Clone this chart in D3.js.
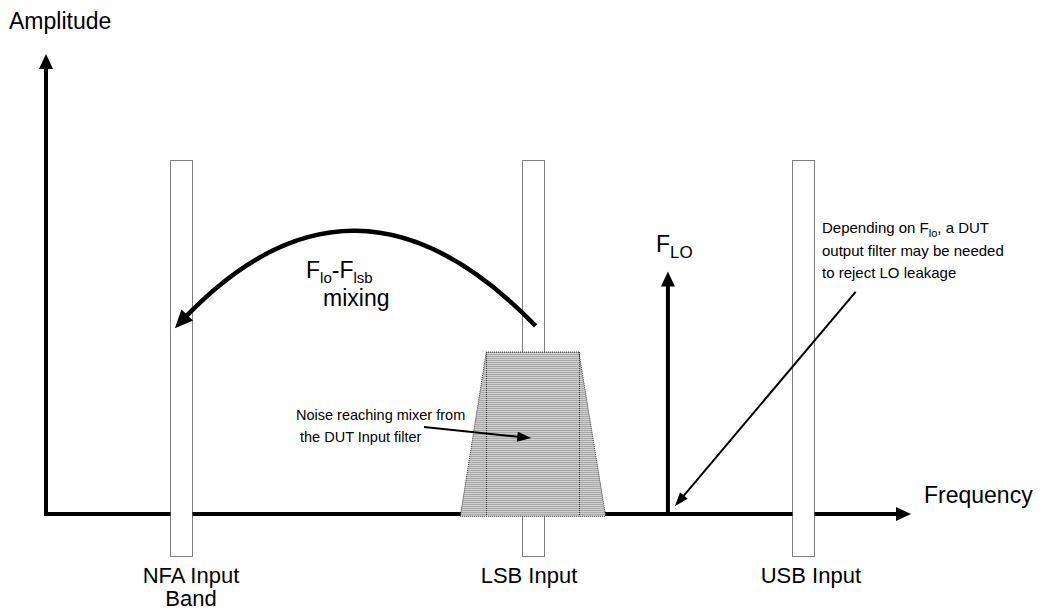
<!DOCTYPE html>
<html>
<head>
<meta charset="utf-8">
<script src="https://cdn.jsdelivr.net/npm/d3@7"></script>
<style>
  html, body { margin: 0; padding: 0; background: #fff; }
  svg { display: block; }
  text { font-family: "Liberation Sans", Arial, Helvetica, sans-serif; fill: #000; }
</style>
</head>
<body>
<svg id="chart" width="1059" height="611"></svg>
<script>
// ---------------- data (frequency units 0..1000, amplitude units 0..100) ----------------
const bandNames   = [["NFA Input", "Band"], ["LSB Input"], ["USB Input"]];
const bandCenters = [156, 563, 875];      // NFA (= Flo - Flsb), LSB, USB
const bandWidth   = 25;
const bandTop     = 77;
const bandBottom  = -9;

const loFreq = 719;                         // F_LO
const loAmp  = 52.7;

const noiseFreqs = [479, 509, 616, 647];    // DUT input filter skirt corners
const noiseAmps  = [-0.5, 35.2, 35.2, -0.5];

const mixFreqs = [566, 356, 149];           // start, control, end of mixing arc
const mixAmps  = [40.9, 81.7, 40.4];

const noiseArrowFreqs = [437, 561];
const noiseArrowAmps  = [18.9, 16.5];
const loArrowFreqs    = [936, 727];
const loArrowAmps     = [48.3, 1.7];

const axisFreqMax = 1000;
const axisAmpMax  = 100;

// ---------------- scales ----------------
const svg = d3.select("#chart");
const x = d3.scaleLinear().domain([0, axisFreqMax]).range([46, 911]);
const y = d3.scaleLinear().domain([0, axisAmpMax]).range([514, 54]);

function headPath(tip, from, len, w) {
  const dx = tip[0] - from[0], dy = tip[1] - from[1];
  const L = Math.hypot(dx, dy);
  const ux = dx / L, uy = dy / L;
  const bx = tip[0] - ux * len, by = tip[1] - uy * len;
  const px = -uy, py = ux;
  return `M${tip[0]},${tip[1]}L${bx + px * w / 2},${by + py * w / 2}L${bx - px * w / 2},${by - py * w / 2}Z`;
}
function shorten(tip, from, d) {
  const dx = tip[0] - from[0], dy = tip[1] - from[1];
  const L = Math.hypot(dx, dy);
  return [tip[0] - dx / L * d, tip[1] - dy / L * d];
}

// pattern for noise fill
const defs = svg.append("defs");
const pat = defs.append("pattern").attr("id", "noiseFill")
  .attr("patternUnits", "userSpaceOnUse").attr("width", 2).attr("height", 2);
pat.append("rect").attr("width", 2).attr("height", 2).attr("fill", "#cdcdcd");
pat.append("rect").attr("width", 2).attr("height", 1).attr("fill", "#ababab");

// ---------------- axes ----------------
const origin = [x(0), y(0)];
const xTip = [x(axisFreqMax), y(0)];
const yTip = [x(0), y(axisAmpMax)];
const xEnd = shorten(xTip, origin, 12);
const yEnd = shorten(yTip, origin, 12);

svg.append("line")
  .attr("x1", origin[0] - 2).attr("y1", origin[1]).attr("x2", xEnd[0]).attr("y2", xEnd[1])
  .attr("stroke", "#000").attr("stroke-width", 4);
svg.append("path").attr("d", headPath(xTip, origin, 15, 14)).attr("fill", "#000");

svg.append("line")
  .attr("x1", origin[0]).attr("y1", origin[1] + 2).attr("x2", yEnd[0]).attr("y2", yEnd[1])
  .attr("stroke", "#000").attr("stroke-width", 4);
svg.append("path").attr("d", headPath(yTip, origin, 15, 14)).attr("fill", "#000");

// ---------------- F_LO ----------------
const loBase = [x(loFreq), y(0)];
const loTip  = [x(loFreq), y(loAmp)];
const loEnd = shorten(loTip, loBase, 12);
svg.append("line")
  .attr("x1", loBase[0]).attr("y1", loBase[1]).attr("x2", loEnd[0]).attr("y2", loEnd[1])
  .attr("stroke", "#000").attr("stroke-width", 4);
svg.append("path").attr("d", headPath(loTip, loBase, 15, 14)).attr("fill", "#000");

// ---------------- bands ----------------
svg.selectAll("rect.band").data(bandCenters).join("rect")
  .attr("class", "band")
  .attr("x", d => Math.round(x(d - bandWidth / 2)) + 0.5)
  .attr("y", Math.round(y(bandTop)) + 0.5)
  .attr("width", d => Math.round(x(d + bandWidth / 2) - x(d - bandWidth / 2)))
  .attr("height", Math.round(y(bandBottom) - y(bandTop)))
  .attr("fill", "#fff")
  .attr("stroke", "#000").attr("stroke-width", 1).attr("stroke-dasharray", "1,1");

// ---------------- noise trapezoid ----------------
const trap = noiseFreqs.map((f, i) => [x(f), y(noiseAmps[i])]);
svg.append("path")
  .attr("d", d3.line()(trap) + "Z")
  .attr("fill", "url(#noiseFill)")
  .attr("stroke", "#333").attr("stroke-width", 1).attr("stroke-dasharray", "1,1");
[1, 2].forEach(i => {
  svg.append("line")
    .attr("x1", Math.round(x(noiseFreqs[i])) + 0.5).attr("y1", y(noiseAmps[i]))
    .attr("x2", Math.round(x(noiseFreqs[i])) + 0.5).attr("y2", y(noiseAmps[0]))
    .attr("stroke", "#333").attr("stroke-width", 1).attr("stroke-dasharray", "1,1");
});

// ---------------- mixing arc ----------------
const mp = mixFreqs.map((f, i) => [x(f), y(mixAmps[i])]);
const arcEnd = shorten(mp[2], mp[1], 10);
const p = d3.path();
p.moveTo(mp[0][0], mp[0][1]);
p.quadraticCurveTo(mp[1][0], mp[1][1], arcEnd[0], arcEnd[1]);
svg.append("path").attr("d", p.toString())
  .attr("fill", "none").attr("stroke", "#000").attr("stroke-width", 4.5);
svg.append("path").attr("d", headPath(mp[2], mp[1], 18, 16)).attr("fill", "#000");

// ---------------- annotation arrows ----------------
function thinArrow(fs, as) {
  const a = [x(fs[0]), y(as[0])], b = [x(fs[1]), y(as[1])];
  const e = shorten(b, a, 10);
  svg.append("line").attr("x1", a[0]).attr("y1", a[1]).attr("x2", e[0]).attr("y2", e[1])
    .attr("stroke", "#000").attr("stroke-width", 2);
  svg.append("path").attr("d", headPath(b, a, 14, 10)).attr("fill", "#000");
}
thinArrow(noiseArrowFreqs, noiseArrowAmps);
thinArrow(loArrowFreqs, loArrowAmps);

// ---------------- text ----------------
const big = 23, small = 14.5;
svg.append("text").attr("x", 9).attr("y", 29).attr("font-size", big).text("Amplitude");
svg.append("text").attr("x", 924).attr("y", 503).attr("font-size", big).text("Frequency");

const labelOffsets = [10, -4, 8];
bandNames.forEach((lines, i) => {
  const t = svg.append("text").attr("text-anchor", "middle").attr("font-size", 22)
    .attr("x", x(bandCenters[i]) + labelOffsets[i]).attr("y", 583);
  lines.forEach((ln, j) => {
    t.append("tspan").attr("x", x(bandCenters[i]) + labelOffsets[i]).attr("dy", j === 0 ? 0 : 23).text(ln);
  });
});

// F_LO label
const flo = svg.append("text").attr("x", x(loFreq) - 12).attr("y", 252).attr("font-size", big);
flo.append("tspan").text("F");
flo.append("tspan").attr("font-size", 17).attr("dy", 6).text("LO");

// Flo - Flsb mixing
const fm = svg.append("text").attr("x", 306).attr("y", 278).attr("font-size", big);
fm.append("tspan").text("F");
fm.append("tspan").attr("font-size", 15).attr("dy", 5).text("lo");
fm.append("tspan").attr("dy", -5).text("-F");
fm.append("tspan").attr("font-size", 15).attr("dy", 5).text("lsb");
svg.append("text").attr("x", 323).attr("y", 306).attr("font-size", big).text("mixing");

// noise annotation
svg.append("text").attr("x", 296).attr("y", 420).attr("font-size", small).text("Noise reaching mixer from");
svg.append("text").attr("x", 300).attr("y", 442).attr("font-size", small).text("the DUT Input filter");

// LO annotation
const a1 = svg.append("text").attr("x", 822).attr("y", 233).attr("font-size", 15);
a1.append("tspan").text("Depending on F");
a1.append("tspan").attr("font-size", 11).attr("dy", 4).text("lo");
a1.append("tspan").attr("dy", -4).text(", a DUT");
svg.append("text").attr("x", 822).attr("y", 256).attr("font-size", 15).text("output filter may be needed");
svg.append("text").attr("x", 822).attr("y", 278).attr("font-size", 15).text("to reject LO leakage");
</script>
</body>
</html>
